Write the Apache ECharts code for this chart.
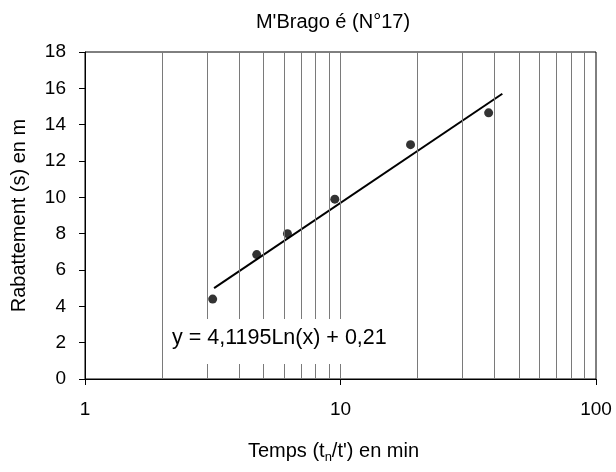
<!DOCTYPE html>
<html>
<head>
<meta charset="utf-8">
<script src="https://cdn.jsdelivr.net/npm/echarts@6/dist/echarts.min.js"></script>
<style>
html,body{margin:0;padding:0;background:#fff;}
#chart{width:616px;height:472px;}
</style>
</head>
<body>
<div id="chart"></div>
<script>
// Observed points (time ratio, drawdown in m)
const timeValues = [3.16, 4.7, 6.2, 9.5, 18.8, 38.0];
const drawdownValues = [4.4, 6.85, 8.0, 9.9, 12.9, 14.65];
// Logarithmic trendline end points (straight on a log axis)
const trendX = [3.2, 43];
const trendY = [5.0, 15.7];
// Vertical grid lines of the log axis
const gridLines = [2, 3, 4, 5, 6, 7, 8, 9, 10, 20, 30, 40, 50, 60, 70, 80, 90];
const yTicks = [0, 2, 4, 6, 8, 10, 12, 14, 16, 18];
const titleText = "M'Brago é (N°17)";
const equationText = "y = 4,1195Ln(x) + 0,21";

const FONT = 'Liberation Sans, Arial, sans-serif';
const FS = 19;
const chart = echarts.init(document.getElementById('chart'), null, {renderer: 'canvas'});

chart.setOption({
  animation: false,
  backgroundColor: '#fff',
  textStyle: {fontFamily: FONT},
  title: {
    text: titleText,
    left: 328, top: 7, textAlign: 'center',
    textStyle: {fontFamily: FONT, fontSize: 20, fontWeight: 'normal', color: '#000'}
  },
  grid: {left: 85, right: 20, top: 52, bottom: 93, show: true, borderColor: '#000', borderWidth: 1, backgroundColor: 'transparent'},
  xAxis: {
    type: 'log', logBase: 10, min: 1, max: 100,
    axisLine: {lineStyle: {color: '#000', width: 1}},
    axisTick: {show: true, inside: false, length: 6, lineStyle: {color: '#000'}},
    axisLabel: {fontFamily: FONT, fontSize: FS, color: '#000', margin: 21},
    splitLine: {show: false},
    name: '{a|Temps (t}{s|n}{a|/t\') en min}',
    nameLocation: 'middle', nameGap: 62,
    nameTextStyle: {
      fontFamily: FONT, fontSize: 20, color: '#000', padding: [0, 14, 0, 0],
      rich: {
        a: {fontFamily: FONT, fontSize: 20, color: '#000', lineHeight: 24, verticalAlign: 'top'},
        s: {fontFamily: FONT, fontSize: 13, color: '#000', lineHeight: 24, verticalAlign: 'top', padding: [10, 0, 0, 0]}
      }
    }
  },
  yAxis: {
    type: 'value', min: 0, max: 18, interval: 2,
    axisLine: {show: true, lineStyle: {color: '#000', width: 1}},
    axisTick: {show: true, inside: false, length: 6, lineStyle: {color: '#000'}},
    axisLabel: {fontFamily: FONT, fontSize: FS, color: '#000', margin: 19,
      formatter: v => (yTicks.indexOf(v) >= 0 ? String(v) : '')},
    splitLine: {show: false},
    name: 'Rabattement (s) en m',
    nameLocation: 'middle', nameGap: 56,
    nameTextStyle: {fontFamily: FONT, fontSize: 20, color: '#000'}
  },
  series: [
    {
      type: 'line', data: [], silent: true,
      markLine: {
        silent: true, symbol: 'none', label: {show: false},
        lineStyle: {color: '#7a7a7a', width: 1, type: 'solid'},
        data: gridLines.map(v => ({xAxis: v}))
      },
      z: 1
    },
    {
      type: 'line', silent: true, symbol: 'none',
      lineStyle: {color: '#000', width: 2},
      data: trendX.map((x, i) => [x, trendY[i]]),
      z: 3
    },
    {
      type: 'scatter', symbol: 'circle', symbolSize: 9,
      itemStyle: {color: '#000'},
      data: timeValues.map((x, i) => [x, drawdownValues[i]]),
      z: 4
    }
  ],
  graphic: [
    {
      type: 'rect', z: 9, silent: true,
      shape: {x: 164, y: 319, width: 232, height: 45},
      style: {fill: '#fff'}
    },
    {
      type: 'text', left: 172, top: 327, z: 10, silent: true,
      style: {text: equationText, fontFamily: FONT, fontSize: 21.5, fill: '#000'}
    }
  ]
});
</script>
</body>
</html>
